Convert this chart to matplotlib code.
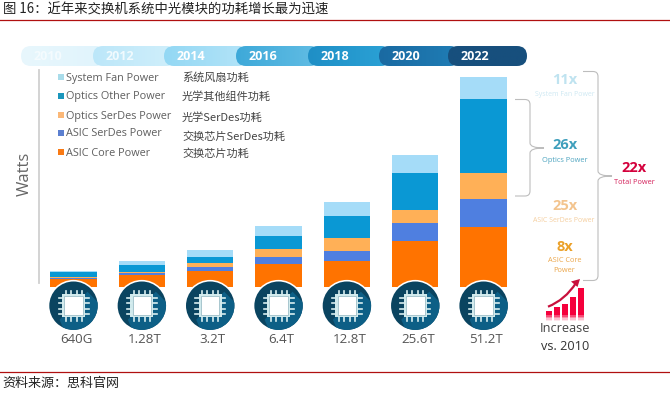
import numpy as np
import matplotlib
matplotlib.use("Agg")
import matplotlib.pyplot as plt
from matplotlib.colors import LinearSegmentedColormap
from matplotlib.patches import Circle, FancyBboxPatch, PathPatch, Rectangle, Polygon
from matplotlib.path import Path

plt.rcParams['font.family'] = ['Noto Sans CJK SC', 'DejaVu Sans']
LATIN = ["Open Sans", "DejaVu Sans"]

# values, arbitrary "watts" units
switch_labels = ["640G", "1.28T", "3.2T", "6.4T", "12.8T", "25.6T", "51.2T"]
years = ["2010", "2012", "2014", "2016", "2018", "2020", "2022"]
asic_core = [8, 11.5, 15.5, 23, 25.5, 45.5, 60]
asic_serdes = [1, 2, 4.5, 6.5, 10.5, 18.5, 27.5]
optics_serdes = [1, 1.5, 4, 8.5, 12.5, 12.5, 26.5]
optics_other = [4.5, 7, 6, 13, 22.5, 37, 74]
fan_power = [1, 3.5, 6.5, 10, 14, 18, 22]

series_names = ["ASIC Core Power", "ASIC SerDes Power", "Optics SerDes Power", "Optics Other Power", "System Fan Power"]
series_cn = ["交换芯片功耗", "交换芯片SerDes功耗", "光学SerDes功耗", "光学其他组件功耗", "系统风扇功耗"]
series_colors = ["#ff7300", "#4f7fe0", "#ffb057", "#0a98d4", "#a5dcf8"]
legend_colors = ["#f97a14", "#5b7fd0", "#fbb878", "#1a96bc", "#a9dcea"]
legend_y = [153, 134, 116, 97, 78]
legend_cn_y = [154, 137, 117, 96, 77]

year_left_colors = ["#e8f7fd", "#bce7f9", "#93d8f4", "#3ea9d9", "#1f8fc6", "#1a6aa2", "#174f7d"]
year_right_colors = ["#e0f4fc", "#d0effb", "#b4e4f8", "#62bde4", "#2ba2d6", "#1f7db5", "#174f7d"]
year_text = ["#f4fbfe", "#f0fafe", "#ffffff", "#ffffff", "#ffffff", "#ffffff", "#ffffff"]
year_left = [21, 93, 164, 236, 308, 379, 448]
year_end = 527

icon_heights = [7.3, 10.7, 14.3, 21.3, 30.3]
icon_x = [545.7, 553.7, 561.7, 570, 578]

fig = plt.figure(figsize=(6.7, 3.93), dpi=100)

# page overlay in pixel units
page = fig.add_axes([0, 0, 1, 1])
page.axis("off")

# stacked bars get their own axes, baseline at y=286.7px
left, right, top, base = 39.0, 527.0, 70.0, 286.7
ax = fig.add_axes([left / 670, 1 - base / 393, (right - left) / 670, (base - top) / 393])
step = 68.35
ax.set_xlim((left - 73.5) / step, (right - 73.5) / step)
ax.set_ylim(0, base - top)
ax.patch.set_alpha(0)
bottom = np.zeros(len(switch_labels))
series = [asic_core, asic_serdes, optics_serdes, optics_other, fan_power]
for values, color, name in zip(series, series_colors, series_names):
    ax.bar(np.arange(len(switch_labels)), values, 0.68, bottom=bottom, color=color, label=name)
    bottom += np.array(values)
ax.set_xticks([])
ax.set_yticks([])
for side in ["top", "right", "bottom"]:
    ax.spines[side].set_visible(False)
ax.spines["left"].set_color("#d0d0d0")
ax.spines["left"].set_linewidth(1.3)
ax.spines["left"].set_bounds(3.5, base - top)
ax.set_ylabel("Watts", fontsize=12, color="#666666", family=LATIN)
ax.yaxis.set_label_coords((33 - left) / (right - left), (base - 174) / (base - top))

# header, footer
page.text(3, 10, "图 16：近年来交换机系统中光模块的功耗增长最为迅速", fontsize=9.6, color="#222222", va="center", weight="medium")
page.plot([0, 670], [19.5, 19.5], color="#b01010", lw=0.9)
page.plot([0, 670], [371.5, 371.5], color="#b01010", lw=0.9)
page.text(2, 383.5, "资料来源：思科官网", fontsize=9.4, color="#222222", va="center")

# year ribbon, later pills sit over earlier ones, each with its own fade
ends = year_left[1:] + [year_end]
for i in range(len(years)):
    x0 = year_left[i]
    x1 = ends[i] + (12 if i < 6 else 0)
    pill = FancyBboxPatch((x0 + 10, 46 + 10), x1 - x0 - 20, 0, boxstyle="round,pad=10,rounding_size=10",
                          fc="none", ec="none", zorder=2 + i)
    page.add_patch(pill)
    cmap = LinearSegmentedColormap.from_list("pill", [year_left_colors[i], year_right_colors[i]])
    grad = page.imshow(np.linspace(0, 1, 64).reshape(1, -1), extent=(x0, x1, 66, 46), aspect="auto",
                       cmap=cmap, zorder=2 + i)
    grad.set_clip_path(pill)
    page.text(x0 + 26.5, 56, years[i], color=year_text[i], fontsize=9, weight="bold", ha="center", va="center",
              zorder=10, family=LATIN)

page.set_xlim(0, 670)
page.set_ylim(393, 0)

# legend
for i in range(len(series_names)):
    page.add_patch(Rectangle((58, legend_y[i] - 4), 6, 6, fc=legend_colors[i], ec="none"))
    page.text(66.5, legend_y[i], series_names[i], fontsize=7.85, color="#5f5f5f", va="center", family=LATIN)
    page.text(182, legend_cn_y[i], series_cn[i], fontsize=8, color="#444444", va="center")

# chips under bars, on a top axes so they cut into the bar bottoms
over = fig.add_axes([0, 0, 1, 1])
over.set_xlim(0, 670)
over.set_ylim(393, 0)
over.axis("off")
for i, label in enumerate(switch_labels):
    cx = 73.5 + step * i
    cy = 305.7
    over.add_patch(Circle((cx, cy), 25.8, fc="white", ec="none", zorder=3))
    disc = Circle((cx, cy), 24.2, fc="#0a4460", ec="none", zorder=4)
    over.add_patch(disc)
    shadow = Polygon([(cx + 14, cy - 14), (cx + 30, cy + 2), (cx + 14, cy + 28), (cx - 8, cy + 28), (cx - 14, cy + 14)],
                     fc="#0d5f86", ec="none", zorder=4.2)
    over.add_patch(shadow)
    shadow.set_clip_path(disc)
    over.add_patch(Rectangle((cx - 11.5, cy - 11.5), 23, 23, fc="#cfe9ec", ec="none", zorder=5))
    over.add_patch(Rectangle((cx - 9.3, cy - 9.3), 18.6, 18.6, fc="white", ec="#9dbfc8", lw=0.6, zorder=6))
    for off in [-8, -3, 3, 8]:
        over.plot([cx + off, cx + off], [cy - 15, cy - 11], color="#d8eef0", lw=1.2, zorder=5)
        over.plot([cx + off, cx + off], [cy + 11, cy + 15], color="#d8eef0", lw=1.2, zorder=5)
        over.plot([cx - 15, cx - 11], [cy + off, cy + off], color="#d8eef0", lw=1.2, zorder=5)
        over.plot([cx + 11, cx + 15], [cy + off, cy + off], color="#d8eef0", lw=1.2, zorder=5)
    over.text(cx + 2.5, 339.5, label, fontsize=9.6, color="#555555", ha="center", va="center", family=LATIN)

# braces
def brace(x, y0, y1, tipx, tipy, depth=15, r=5):
    verts = [(x, y0), (x + depth - r, y0), (x + depth, y0), (x + depth, y0 + r),
             (x + depth, tipy - r), (x + depth, tipy), (tipx, tipy),
             (x + depth, tipy), (x + depth, tipy + r),
             (x + depth, y1 - r), (x + depth, y1), (x + depth - r, y1), (x, y1)]
    codes = [Path.MOVETO, Path.LINETO, Path.CURVE3, Path.CURVE3,
             Path.LINETO, Path.CURVE3, Path.CURVE3,
             Path.CURVE3, Path.CURVE3,
             Path.LINETO, Path.CURVE3, Path.CURVE3, Path.LINETO]
    over.add_patch(PathPatch(Path(verts, codes), fc="none", ec="#bdbdbd", lw=0.8))

brace(515, 99.5, 196, 544, 148)
brace(583, 71.5, 280.5, 612, 176)

# right hand multipliers
over.text(565, 80, "11x", fontsize=10.5, weight="bold", color="#bfe3f0", ha="center", va="center", family=LATIN)
over.text(565, 94.5, "System Fan Power", fontsize=5, color="#cfe9f3", ha="center", va="center", family=LATIN)
over.text(565, 145, "26x", fontsize=10.5, weight="bold", color="#3f9fbc", ha="center", va="center", family=LATIN)
over.text(565, 160.5, "Optics Power", fontsize=5.3, color="#4fa5c0", ha="center", va="center", family=LATIN)
over.text(634, 168.5, "22x", fontsize=10.5, weight="bold", color="#d4003c", ha="center", va="center", family=LATIN)
over.text(634, 183, "Total Power", fontsize=5.3, color="#d4205a", ha="center", va="center", family=LATIN)
over.text(565, 205.5, "25x", fontsize=10.5, weight="bold", color="#f3c48e", ha="center", va="center", family=LATIN)
over.text(564, 221, "ASIC SerDes Power", fontsize=5, color="#f5cfa0", ha="center", va="center", family=LATIN)
over.text(565, 247, "8x", fontsize=10.5, weight="bold", color="#eba12a", ha="center", va="center", family=LATIN)
over.text(564.5, 261, "ASIC Core", fontsize=5.3, color="#eba64a", ha="center", va="center", family=LATIN)
over.text(564.5, 270.5, "Power", fontsize=5.3, color="#eba64a", ha="center", va="center", family=LATIN)

# growth icon with a small faded reflection under each step
for bx, h in zip(icon_x, icon_heights):
    over.add_patch(Rectangle((bx, 315 - h + 3), 6.3, h - 3, fc="#f5003c", ec="none"))
    for k, alpha in enumerate([0.7, 0.45, 0.25, 0.1]):
        over.add_patch(Rectangle((bx, 315 + k * 1.5), 6.3, 1.5, fc="#f5003c", ec="none", alpha=alpha))
over.add_patch(PathPatch(Path([(548, 306.7), (565, 300), (576, 283)], [Path.MOVETO, Path.CURVE3, Path.CURVE3]),
                         fc="none", ec="#c8103c", lw=1.6))
over.add_patch(Polygon([(580, 279), (571, 281.5), (577.5, 287)], fc="#c8103c", ec="none"))
over.text(564.7, 328.5, "Increase", fontsize=9.2, color="#444444", ha="center", va="center", family=LATIN)
over.text(565.5, 346, "vs. 2010", fontsize=9.2, color="#333333", ha="center", va="center", family=LATIN)

fig.savefig("out.png", dpi=100)
